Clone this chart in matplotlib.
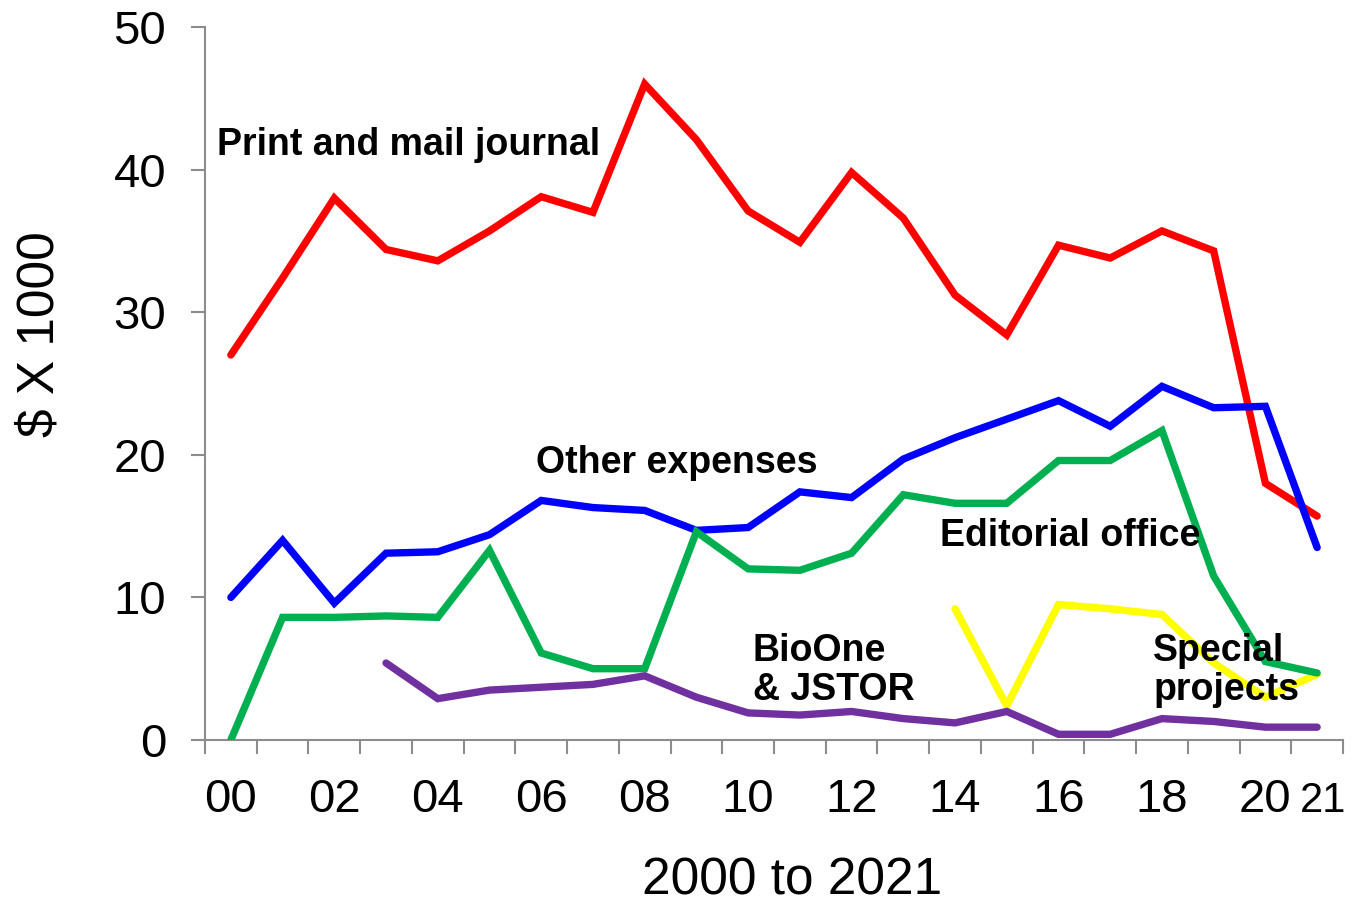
import matplotlib
matplotlib.use("Agg")
import matplotlib.pyplot as plt
import numpy as np

years = list(range(2000, 2022))
print_mail = [27.0, 32.4, 38.0, 34.4, 33.6, 35.7, 38.1, 37.0, 46.0, 42.1, 37.1,
              34.9, 39.8, 36.6, 31.2, 28.4, 34.7, 33.8, 35.7, 34.3, 18.0, 15.7]
other_exp = [10.0, 14.0, 9.6, 13.1, 13.2, 14.4, 16.8, 16.3, 16.1, 14.7, 14.9,
             17.4, 17.0, 19.7, 21.2, 22.5, 23.8, 22.0, 24.8, 23.3, 23.4, 13.5]
editorial = [0.0, 8.6, 8.6, 8.7, 8.6, 13.3, 6.1, 5.0, 5.0, 14.6, 12.0,
             11.9, 13.1, 17.2, 16.6, 16.6, 19.6, 19.6, 21.7, 11.5, 5.5, 4.7]
bioone_years = list(range(2003, 2022))
bioone = [5.4, 2.9, 3.5, 3.7, 3.9, 4.5, 3.0, 1.9, 1.75, 2.0, 1.5, 1.2, 2.0,
          0.4, 0.4, 1.5, 1.3, 0.9, 0.9]
special_years = list(range(2014, 2022))
special = [9.2, 2.4, 9.5, 9.2, 8.8, 5.4, 3.0, 4.6]

xtick_pos = [2000, 2002, 2004, 2006, 2008, 2010, 2012, 2014, 2016, 2018, 2020]
xtick_labels = ["00", "02", "04", "06", "08", "10", "12", "14", "16", "18", "20"]
last_label = "21"

plt.rcParams['font.family'] = ['Liberation Sans', 'DejaVu Sans']

fig = plt.figure(figsize=(13.52, 9.06), dpi=100)
ax = fig.add_axes([205/1352, 1-740/906, (1343-205)/1352, (740-27)/906])

lw = 5.3
common = dict(lw=lw, solid_capstyle='round', solid_joinstyle='miter')
ax.plot(years, print_mail, color='#FF0000', zorder=3, **common)
ax.plot(years, other_exp, color='#0000FF', zorder=4, **common)
ax.plot(special_years, special, color='#FFFF00', zorder=5, **common)
ax.plot(years, editorial, color='#00B050', zorder=6, **common)
ax.plot(bioone_years, bioone, color='#7030A0', zorder=7, **common)

ax.set_xlim(1999.5, 2021.5)
ax.set_ylim(0, 50)

for s in ['top', 'right']:
    ax.spines[s].set_visible(False)
for s in ['left', 'bottom']:
    ax.spines[s].set_color('#8c8c8c')
    ax.spines[s].set_linewidth(1.5)

ax.set_yticks([0, 10, 20, 30, 40, 50])
ax.tick_params(axis='y', direction='out', length=10, width=1.5, color='#8c8c8c',
               labelsize=34, pad=18)
ax.set_xticks(np.arange(1999.5, 2022.0, 1.0), minor=True)
ax.set_xticks(xtick_pos)
ax.set_xticklabels(xtick_labels)
ax.tick_params(axis='x', which='major', length=0, labelsize=34, pad=27)
ax.tick_params(axis='x', which='minor', direction='out', length=10, width=1.5, color='#8c8c8c')

# last (narrower) label, baseline aligned with the others
import matplotlib.transforms as mtransforms
trans = mtransforms.blended_transform_factory(ax.transData, fig.transFigure)
ax.text(2021.12, 1-812/906, last_label, transform=trans, fontsize=30,
        ha='center', va='baseline', clip_on=False)

txt = dict(fontsize=27, fontweight='bold', ha='left', va='center', color='black', zorder=10, linespacing=1.1)
ax.text(1999.73, 41.7, "Print and mail journal", **txt)
ax.text(2005.9, 19.4, "Other expenses", **txt)
ax.text(2013.71, 14.3, "Editorial office", **txt)
ax.text(2010.09, 4.9, "BioOne\n& JSTOR", **txt)
ax.text(2017.83, 4.9, "Special\nprojects", **txt)

fig.text(40/1352, 1-334/906, "$ X 1000", rotation=90, fontsize=37, ha='center', va='center')
fig.text(792/1352, 1-881/906, "2000 to 2021", fontsize=37, ha='center', va='center')

fig.savefig("out.png", dpi=100)
